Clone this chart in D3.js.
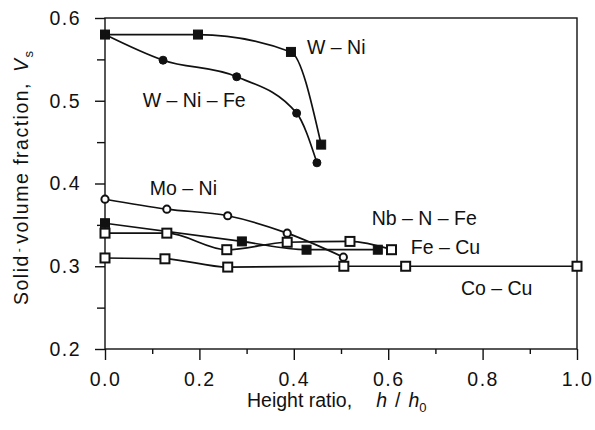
<!DOCTYPE html>
<html>
<head>
<meta charset="utf-8">
<script src="https://cdn.jsdelivr.net/npm/d3@7"></script>
<style>
body { margin: 0; background: #fff; }
text { font-family: "Liberation Sans", Arial, sans-serif; fill: #111; }
</style>
</head>
<body>
<script>
// readings: [h/h0, Vs]
var wNi = [[0, 0.58], [0.197, 0.58], [0.394, 0.559], [0.458, 0.447]];
var wNiFe = [[0, 0.58], [0.123, 0.549], [0.279, 0.529], [0.406, 0.485], [0.449, 0.425]];
var moNi = [[0, 0.381], [0.131, 0.369], [0.26, 0.361], [0.386, 0.34], [0.505, 0.311]];
var nbNFe = [[0, 0.352], [0.29, 0.33], [0.427, 0.32], [0.578, 0.32]];
var feCu = [[0, 0.34], [0.131, 0.34], [0.258, 0.32], [0.386, 0.329], [0.519, 0.33], [0.607, 0.32]];
var coCu = [[0, 0.31], [0.127, 0.309], [0.26, 0.299], [0.506, 0.3], [0.637, 0.3], [1.0, 0.3]];

var seriesList = [
    { name: 'W – Ni', data: wNi, marker: 'square', filled: true },
    { name: 'W – Ni – Fe', data: wNiFe, marker: 'circle', filled: true },
    { name: 'Mo – Ni', data: moNi, marker: 'circle', filled: false },
    { name: 'Nb – N – Fe', data: nbNFe, marker: 'square', filled: true },
    { name: 'Fe – Cu', data: feCu, marker: 'square', filled: false },
    { name: 'Co – Cu', data: coCu, marker: 'square', filled: false }
];

var xTicks = [0, 0.2, 0.4, 0.6, 0.8, 1.0];
var yTicks = [0.2, 0.3, 0.4, 0.5, 0.6];

// label anchors in data units
var labels = [
    { text: 'W – Ni', x: 0.428, y: 0.5565 },
    { text: 'W – Ni – Fe', x: 0.08, y: 0.4925 },
    { text: 'Mo – Ni', x: 0.095, y: 0.386 },
    { text: 'Nb – N – Fe', x: 0.565, y: 0.350 },
    { text: 'Fe – Cu', x: 0.648, y: 0.3148 },
    { text: 'Co – Cu', x: 0.754, y: 0.2653 }
];

var svg = d3.select('body').append('svg')
    .attr('width', 595)
    .attr('height', 430);

var margin = { top: 18, right: 18, bottom: 81, left: 105 },
    width = +svg.attr('width') - margin.left - margin.right,
    height = +svg.attr('height') - margin.top - margin.bottom,
    g = svg.append('g').attr('transform', 'translate(' + margin.left + ',' + margin.top + ')');

var x = d3.scaleLinear().domain([0, 1]).range([0, width]);
var y = d3.scaleLinear().domain([0.2, 0.6]).range([height, 0]);

// frame
g.append('rect')
    .attr('width', width)
    .attr('height', height)
    .attr('fill', 'none')
    .attr('stroke', '#111')
    .attr('stroke-width', 1.4);

// x axis, minor then major
g.append('g')
    .attr('transform', 'translate(0,' + height + ')')
    .call(d3.axisBottom(x).tickValues(d3.range(0.1, 1, 0.2)).tickSize(5).tickFormat(''))
    .call(function (a) { a.select('.domain').remove(); });

g.append('g')
    .attr('transform', 'translate(0,' + height + ')')
    .call(d3.axisBottom(x).tickValues(xTicks).tickSize(11).tickPadding(12).tickFormat(d3.format('.1f')))
    .call(function (a) { a.select('.domain').remove(); });

g.append('g')
    .call(d3.axisLeft(y).tickValues(d3.range(0.25, 0.6, 0.1)).tickSize(8).tickFormat(''))
    .call(function (a) { a.select('.domain').remove(); });

g.append('g')
    .call(d3.axisLeft(y).tickValues(yTicks).tickSize(10).tickPadding(14).tickFormat(d3.format('.1f')))
    .call(function (a) { a.select('.domain').remove(); });

g.selectAll('.tick line').attr('stroke', '#111').attr('stroke-width', 1.4);
g.selectAll('.tick text')
    .style('font-size', '19.5px')
    .style('letter-spacing', '1.5px')
    .attr('fill', '#111');

// lines
var line = d3.line()
    .x(function (d) { return x(d[0]); })
    .y(function (d) { return y(d[1]); })
    .curve(d3.curveMonotoneX);

var series = g.selectAll('.series')
    .data(seriesList)
    .enter().append('g')
    .attr('class', 'series');

series.append('path')
    .attr('d', function (d) { return line(d.data); })
    .attr('fill', 'none')
    .attr('stroke', '#111')
    .attr('stroke-width', 1.7);

series.each(function (s) {
    var sel = d3.select(this).selectAll('.pt')
        .data(s.data)
        .enter();
    if (s.marker === 'square') {
        sel.append('rect')
            .attr('x', function (d) { return x(d[0]) - 4.5; })
            .attr('y', function (d) { return y(d[1]) - 4.5; })
            .attr('width', 9)
            .attr('height', 9)
            .attr('fill', s.filled ? '#111' : '#fff')
            .attr('stroke', '#111')
            .attr('stroke-width', s.filled ? 1 : 2);
    } else {
        sel.append('circle')
            .attr('cx', function (d) { return x(d[0]); })
            .attr('cy', function (d) { return y(d[1]); })
            .attr('r', s.filled ? 4 : 3.6)
            .attr('fill', s.filled ? '#111' : '#fff')
            .attr('stroke', '#111')
            .attr('stroke-width', s.filled ? 1 : 2);
    }
});

g.selectAll('.lbl')
    .data(labels)
    .enter().append('text')
    .attr('class', 'lbl')
    .attr('x', function (d) { return x(d.x); })
    .attr('y', function (d) { return y(d.y); })
    .style('font-size', '19.5px')
    .text(function (d) { return d.text; });

// axis titles
var xt = svg.append('text')
    .attr('x', 247)
    .attr('y', 407)
    .style('font-size', '19.5px');
xt.append('tspan').text('Height ratio,');
xt.append('tspan').attr('dx', 24).style('font-style', 'italic').text('h');
xt.append('tspan').attr('dx', 8).text('/');
xt.append('tspan').attr('dx', 8).style('font-style', 'italic').text('h');
xt.append('tspan').attr('dy', 5).style('font-size', '13px').text('0');

var yt = svg.append('text')
    .attr('transform', 'translate(28,305) rotate(-90)')
    .style('font-size', '19.5px')
    .style('letter-spacing', '1.5px');
yt.append('tspan').text('Solid');
yt.append('tspan').attr('dx', 2).attr('dy', -5).style('font-size', '12px').text('-');
yt.append('tspan').attr('dx', 3).attr('dy', 5).text('volume fraction,');
yt.append('tspan').attr('dx', 10).style('font-style', 'italic').text('V');
yt.append('tspan').attr('dy', 5).style('font-size', '13px').text('s');
</script>
</body>
</html>
